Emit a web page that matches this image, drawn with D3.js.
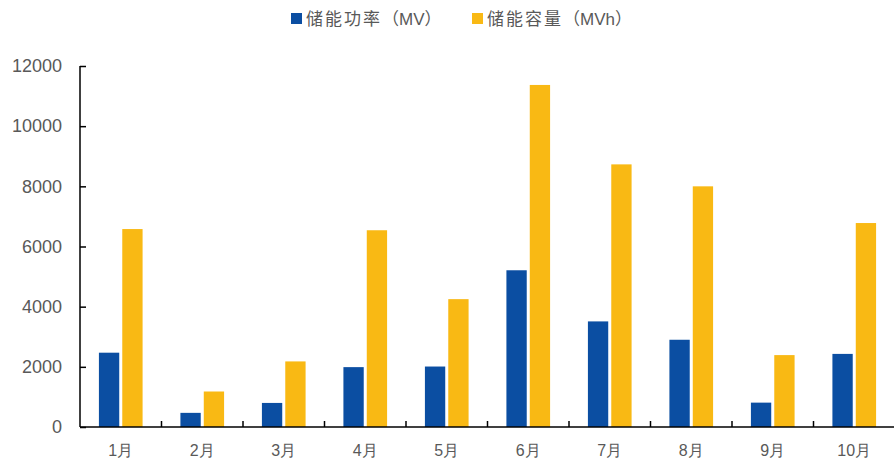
<!DOCTYPE html>
<html>
<head>
<meta charset="utf-8">
<script src="https://cdn.jsdelivr.net/npm/d3@7"></script>
<style>
  body { margin: 0; background: #fff; }
  svg { display: block; font-family: "Liberation Sans", Arial, "Noto Sans CJK SC", sans-serif; }
</style>
</head>
<body>
<svg id="chart" width="894" height="462"></svg>
<script>
'use strict';

const MONTHS = ["1月", "2月", "3月", "4月", "5月", "6月", "7月", "8月", "9月", "10月"];
const POWER = [2470, 470, 800, 1990, 2010, 5210, 3510, 2900, 810, 2430];
const CAPACITY = [6580, 1180, 2180, 6540, 4250, 11370, 8730, 8000, 2390, 6780];
// legend names, split into the Chinese part and the unit part
const SERIES_NAMES = ["储能功率", "储能容量"];
const SERIES_UNITS = ["（MV）", "（MVh）"];
const Y_TICKS = [0, 2000, 4000, 6000, 8000, 10000, 12000];

const COLORS = ["#0b4ea2", "#f9b914"];
const TEXT_COLOR = "#595959";

const svg = d3.select("#chart");
const PLOT_LEFT = 80, PLOT_RIGHT = 895, PLOT_TOP = 66, PLOT_BOTTOM = 427;

const x = d3.scaleBand().domain(MONTHS).range([PLOT_LEFT, PLOT_RIGHT]).padding(0);
const x1 = d3.scaleBand().domain([0, 1]).range([0, x.bandwidth()])
   .paddingInner(0.13).paddingOuter(0.81);
const y = d3.scaleLinear().domain([0, 12000]).range([PLOT_BOTTOM, PLOT_TOP]);

const rows = MONTHS.map((m, i) => ({ month: m, values: [POWER[i], CAPACITY[i]] }));

// bars
svg.append("g").selectAll("g")
   .data(rows)
   .enter()
   .append("g")
   .attr("transform", d => `translate(${x(d.month)},0)`)
   .selectAll("rect")
   .data(d => d.values)
   .enter()
   .append("rect")
   .attr("x", (d, i) => x1(i))
   .attr("y", d => y(d))
   .attr("width", x1.bandwidth())
   .attr("height", d => y(0) - y(d))
   .attr("fill", (d, i) => COLORS[i]);

// y axis
const axisY = svg.append("g")
   .attr("transform", `translate(${PLOT_LEFT},0)`)
   .call(d3.axisLeft(y).tickValues(Y_TICKS).tickFormat(d3.format("d"))
      .tickSizeInner(-6).tickSizeOuter(0).tickPadding(18));
axisY.select(".domain").attr("stroke", "#000").attr("stroke-width", 1.5)
   .attr("d", `M0,${PLOT_TOP}V${PLOT_BOTTOM}`);
axisY.selectAll(".tick line").attr("stroke", "#000").attr("stroke-width", 1.5);
axisY.selectAll("text").attr("fill", TEXT_COLOR).style("font-size", "18px");

// x axis
const axisX = svg.append("g")
   .attr("transform", `translate(0,${PLOT_BOTTOM})`)
   .call(d3.axisBottom(x).tickSize(0).tickPadding(18));
axisX.select(".domain").attr("stroke", "#000").attr("stroke-width", 1.5)
   .attr("d", `M${PLOT_LEFT},0H${PLOT_RIGHT}`);
axisX.selectAll("text").attr("fill", TEXT_COLOR).style("font-size", "16px");

// category boundary ticks
svg.append("g").selectAll("line")
   .data(MONTHS.slice(1))
   .enter()
   .append("line")
   .attr("x1", d => x(d))
   .attr("x2", d => x(d))
   .attr("y1", PLOT_BOTTOM)
   .attr("y2", PLOT_BOTTOM - 6)
   .attr("stroke", "#000")
   .attr("stroke-width", 1.5);

// legend
const legendX = [291, 472];
const legend = svg.append("g").selectAll("g")
   .data(SERIES_NAMES)
   .enter()
   .append("g")
   .attr("transform", (d, i) => `translate(${legendX[i]},13)`);
legend.append("rect")
   .attr("width", 11)
   .attr("height", 11)
   .attr("fill", (d, i) => COLORS[i]);
const legendText = legend.append("text")
   .attr("x", 15)
   .attr("y", 6)
   .attr("dy", "0.35em")
   .attr("fill", TEXT_COLOR)
   .style("font-size", "17px");
legendText.append("tspan").style("letter-spacing", "2px").text(d => d);
legendText.append("tspan").text((d, i) => SERIES_UNITS[i]);
</script>
</body>
</html>
